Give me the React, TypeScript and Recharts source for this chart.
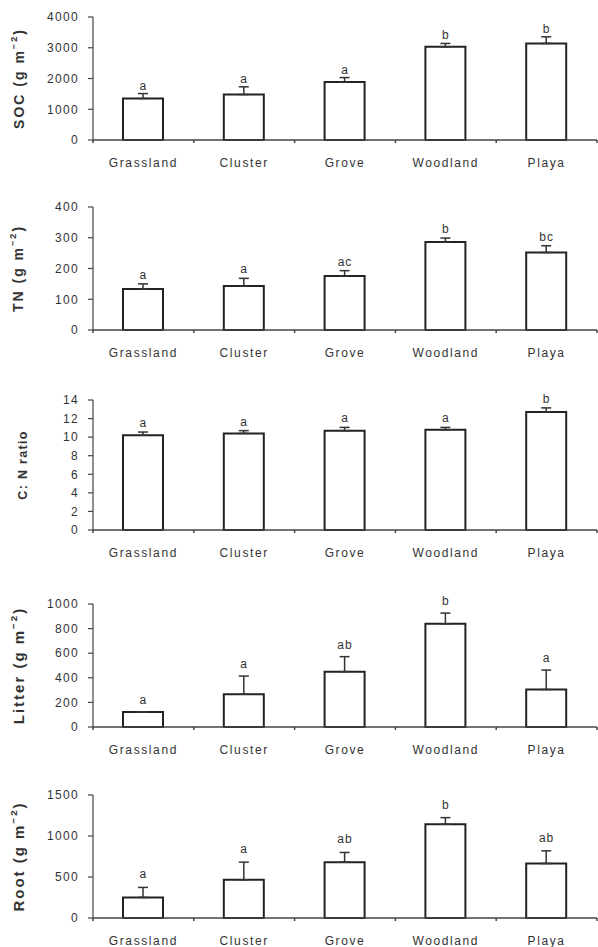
import React from "react";
import { Bar, ComposedChart, ErrorBar, LabelList, Line, XAxis, YAxis } from "recharts";

const sites = ["Grassland", "Cluster", "Grove", "Woodland", "Playa"];

const socMean = [1350, 1480, 1890, 3030, 3140];
const socErr = [160, 250, 140, 110, 215];
const socLetters = ["a", "a", "a", "b", "b"];
const socTicks = [0, 1000, 2000, 3000, 4000];

const tnMean = [133, 143, 176, 286, 252];
const tnErr = [17, 25, 17, 13, 22];
const tnLetters = ["a", "a", "ac", "b", "bc"];
const tnTicks = [0, 100, 200, 300, 400];

const cnMean = [10.2, 10.4, 10.7, 10.8, 12.7];
const cnErr = [0.35, 0.3, 0.35, 0.25, 0.45];
const cnLetters = ["a", "a", "a", "a", "b"];
const cnTicks = [0, 2, 4, 6, 8, 10, 12, 14];

const litterMean = [122, 267, 450, 839, 305];
const litterErr = [0, 147, 122, 87, 158];
const litterLetters = ["a", "a", "ab", "b", "a"];
const litterTicks = [0, 200, 400, 600, 800, 1000];

const rootMean = [251, 466, 681, 1143, 665];
const rootErr = [122, 215, 118, 81, 154];
const rootLetters = ["a", "a", "ab", "b", "ab"];
const rootTicks = [0, 500, 1000, 1500];

const FONT = "'Liberation Sans', Arial, sans-serif";
const INK = "#333";
const CHART_W = 598;
const AXIS_W = 93;
const RIGHT = 1;
const TOP_PAD = 10;
const X_AXIS_H = 30;
const BAND = (CHART_W - AXIS_W - RIGHT) / sites.length;

function buildRows(mean: number[], err: number[], letters: string[]) {
  return sites.map((site, i) => ({
    site,
    mean: mean[i],
    err: err[i],
    top: mean[i] + err[i],
    letter: letters[i],
  }));
}

function SiteTick(props: any) {
  const { x, y, payload, index } = props;
  const half = BAND / 2;
  return (
    <g>
      <line x1={x - half} x2={x - half} y1={y} y2={y + 3} stroke="#444" strokeWidth={1.5} />
      {index === sites.length - 1 && (
        <line x1={x + half} x2={x + half} y1={y} y2={y + 3} stroke="#444" strokeWidth={1.5} />
      )}
      <text x={x} y={y + 27} textAnchor="middle" fontSize={12} fill={INK} fontFamily={FONT} letterSpacing={1.6}>
        {payload.value}
      </text>
    </g>
  );
}

interface PanelProps {
  title: string;
  unit: boolean;
  rows: ReturnType<typeof buildRows>;
  ticks: number[];
  plotTop: number;
  plotH: number;
  titleX: number;
  titleSize: number;
  titleSpacing: number;
  letterOffset: number;
}

function Panel({ title, unit, rows, ticks, plotTop, plotH, titleX, titleSize, titleSpacing, letterOffset }: PanelProps) {
  const cy = TOP_PAD + plotH / 2;
  const renderTitle = () => (
    <text
      transform={`translate(${titleX},${cy}) rotate(-90)`}
      textAnchor="middle"
      dominantBaseline="central"
      fontSize={titleSize}
      fontWeight="bold"
      fill={INK}
      fontFamily={FONT}
      letterSpacing={titleSpacing}
    >
      {title}
      {unit && (
        <>
          {" (g m"}
          <tspan dy={-5} fontSize={titleSize * 0.65}>−2</tspan>
          <tspan dy={5}>)</tspan>
        </>
      )}
    </text>
  );

  const renderLetter = (p: any) => (
    <text
      x={p.x}
      y={p.y - letterOffset}
      textAnchor="middle"
      fontSize={12}
      fill={INK}
      fontFamily={FONT}
      letterSpacing={1}
    >
      {p.value}
    </text>
  );

  return (
    <div style={{ position: "absolute", left: 0, top: plotTop - TOP_PAD }}>
      <ComposedChart
        width={CHART_W}
        height={plotH + TOP_PAD + X_AXIS_H}
        data={rows}
        margin={{ top: TOP_PAD, right: RIGHT, bottom: 0, left: 0 }}
      >
        <XAxis
          dataKey="site"
          height={X_AXIS_H}
          tickSize={0}
          tickMargin={0}
          tickLine={false}
          axisLine={{ stroke: "#444", strokeWidth: 1.5 }}
          tick={<SiteTick />}
          interval={0}
        />
        <YAxis
          width={AXIS_W}
          domain={[ticks[0], ticks[ticks.length - 1]]}
          ticks={ticks}
          interval={0}
          tickSize={5}
          tickMargin={9}
          axisLine={{ stroke: "#444", strokeWidth: 1.2 }}
          tickLine={{ stroke: "#444", strokeWidth: 1.2 }}
          tick={{ fontSize: 12, fill: INK, fontFamily: FONT, letterSpacing: 1.3 }}
          label={renderTitle}
        />
        <Bar dataKey="mean" barSize={40} fill="#fff" stroke="#222" strokeWidth={2} isAnimationActive={false}>
          <ErrorBar
            dataKey={(d: any) => [0, d.err]}
            width={5}
            stroke="#333"
            strokeWidth={1.5}
            direction="y"
          />
        </Bar>
        <Line
          dataKey="top"
          stroke="none"
          dot={false}
          activeDot={false}
          legendType="none"
          isAnimationActive={false}
        >
          <LabelList dataKey="letter" content={renderLetter} />
        </Line>
      </ComposedChart>
    </div>
  );
}

export default function App() {
  return (
    <div style={{ position: "relative", width: CHART_W, height: 947, background: "#fff" }}>
      <style>{"body{margin:0}"}</style>
      <Panel title="SOC" unit rows={buildRows(socMean, socErr, socLetters)} ticks={socTicks}
        plotTop={17} plotH={123} titleX={19} titleSize={14} titleSpacing={2} letterOffset={4} />
      <Panel title="TN" unit rows={buildRows(tnMean, tnErr, tnLetters)} ticks={tnTicks}
        plotTop={207} plotH={123} titleX={18} titleSize={14} titleSpacing={2} letterOffset={5} />
      <Panel title="C: N ratio" unit={false} rows={buildRows(cnMean, cnErr, cnLetters)} ticks={cnTicks}
        plotTop={400} plotH={130} titleX={23} titleSize={12.5} titleSpacing={1.3} letterOffset={5} />
      <Panel title="Litter" unit rows={buildRows(litterMean, litterErr, litterLetters)} ticks={litterTicks}
        plotTop={604} plotH={123} titleX={18} titleSize={15} titleSpacing={2} letterOffset={8} />
      <Panel title="Root" unit rows={buildRows(rootMean, rootErr, rootLetters)} ticks={rootTicks}
        plotTop={795} plotH={123} titleX={18} titleSize={15} titleSpacing={2} letterOffset={9} />
    </div>
  );
}
